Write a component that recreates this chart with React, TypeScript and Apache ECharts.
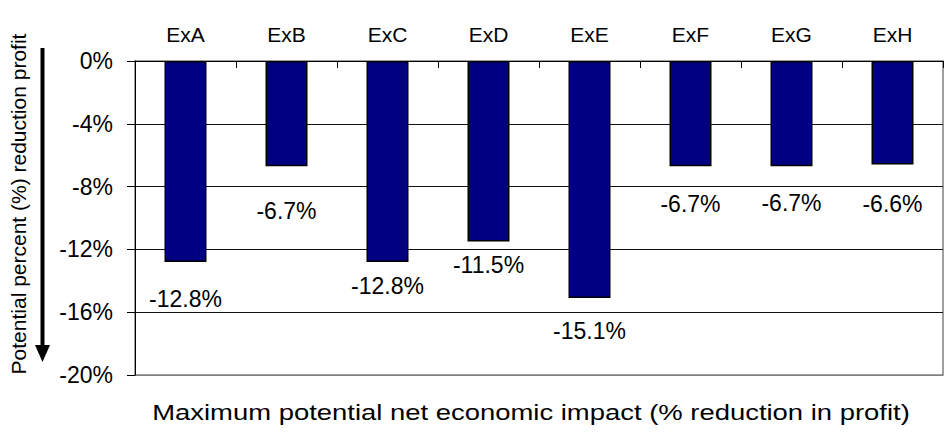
import React, { useEffect, useRef } from "react";
import * as echarts from "echarts";

const categories = ["ExA", "ExB", "ExC", "ExD", "ExE", "ExF", "ExG", "ExH"];
const reductionValues = [-12.8, -6.7, -12.8, -11.5, -15.1, -6.7, -6.7, -6.6];
const yTickMin = -20;
const yTickMax = 0;
const yTickStep = 4;
const labelGaps = [26, 33, 13, 12, 21, 26, 25, 28];
const yAxisTitle = "Potential percent (%) reduction profit";
const xAxisTitle = "Maximum potential net economic impact (% reduction in profit)";

const FONT = "Liberation Sans, Arial, sans-serif";

export default function App() {
  const ref = useRef<HTMLDivElement>(null);
  useEffect(() => {
    if (!ref.current) return;
    const chart = echarts.init(ref.current, undefined, { renderer: "svg" });
    chart.setOption({
      animation: false,
      backgroundColor: "#ffffff",
      grid: {
        left: 135,
        right: 4,
        top: 61,
        bottom: 59,
        show: true,
        borderColor: "#808080",
        borderWidth: 1.5,
        backgroundColor: "transparent",
      },
      xAxis: {
        type: "category",
        position: "top",
        data: categories,
        axisLine: { show: true, lineStyle: { color: "#000", width: 1 } },
        axisTick: { show: true, inside: true, length: 7, lineStyle: { color: "#000" } },
        axisLabel: { color: "#000", fontSize: 21, fontFamily: FONT, margin: 16 },
        splitLine: { show: false },
      },
      yAxis: {
        type: "value",
        min: yTickMin,
        max: yTickMax,
        interval: yTickStep,
        axisLine: { show: true, lineStyle: { color: "#000", width: 1 } },
        axisTick: { show: true, length: 8, lineStyle: { color: "#000" } },
        axisLabel: {
          color: "#000",
          fontSize: 23,
          fontFamily: FONT,
          margin: 22,
          formatter: "{value}%",
        },
        splitLine: {
          show: true,
          lineStyle: { color: ["#808080", "#111", "#111", "#111", "#111", "#111"], width: 1 },
        },
      },
      series: [
        {
          type: "bar",
          barWidth: 42,
          data: reductionValues.map((v, i) => ({
            value: v,
            label: { distance: labelGaps[i] },
          })),
          itemStyle: { color: "#000080", borderColor: "#000", borderWidth: 1.5 },
          label: {
            show: true,
            position: "bottom",
            color: "#000",
            fontSize: 23,
            fontFamily: FONT,
            formatter: "{c}%",
          },
          z: 3,
        },
      ],
      graphic: [
        {
          type: "text",
          x: 18,
          y: 204,
          rotation: Math.PI / 2,
          style: {
            text: yAxisTitle,
            fill: "#000",
            fontSize: 21,
            fontFamily: FONT,
            align: "center",
            verticalAlign: "middle",
          },
        },
        {
          type: "line",
          shape: { x1: 42.5, y1: 48, x2: 42.5, y2: 347 },
          style: { stroke: "#000", lineWidth: 4 },
        },
        {
          type: "polygon",
          shape: { points: [[35, 345], [50, 345], [42.5, 362]] },
          style: { fill: "#000" },
        },
        {
          type: "text",
          x: 531,
          y: 412,
          scaleX: 1.247,
          style: {
            text: xAxisTitle,
            fill: "#000",
            fontSize: 22,
            fontFamily: FONT,
            align: "center",
            verticalAlign: "middle",
          },
        },
      ],
    });
    return () => chart.dispose();
  }, []);
  return <div ref={ref} style={{ width: 947, height: 434, position: "absolute", left: 0, top: 0 }} />;
}
